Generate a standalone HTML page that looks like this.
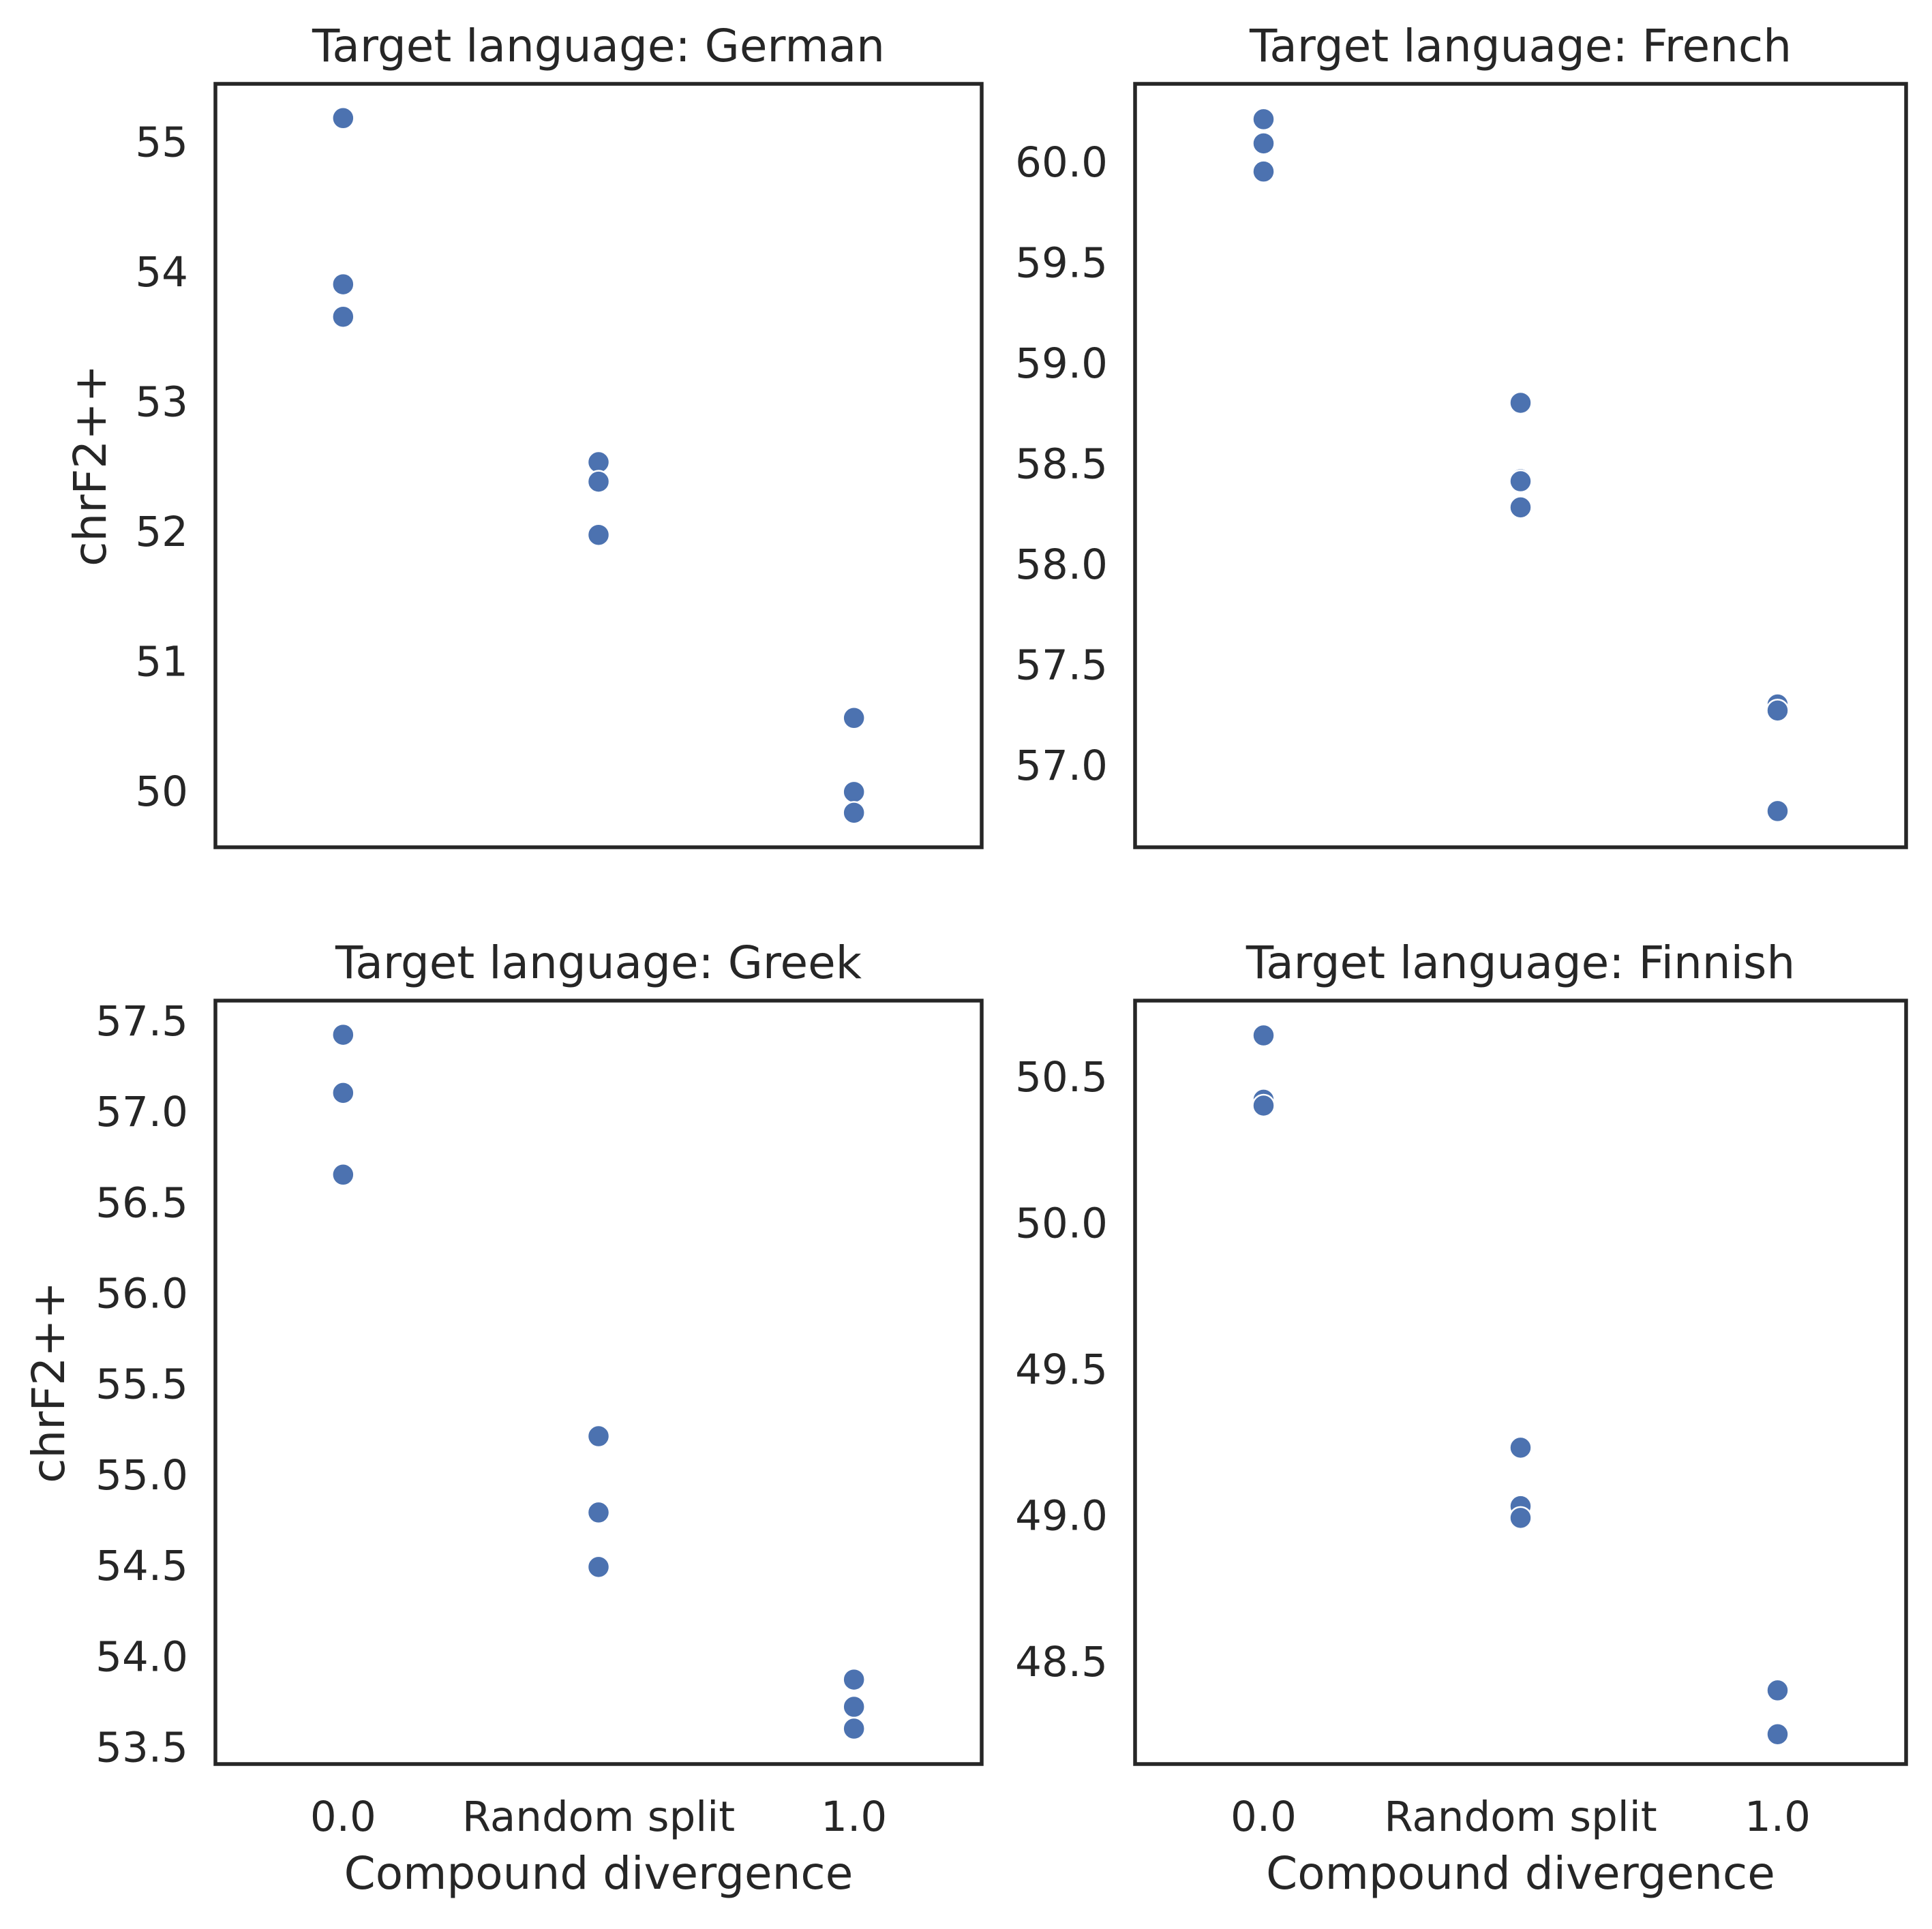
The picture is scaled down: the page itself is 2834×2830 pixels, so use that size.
<!DOCTYPE html>
<html><head><meta charset="utf-8"><style>
html,body{margin:0;padding:0;background:#fff}
svg text{font-family:"DejaVu Sans","Liberation Sans",sans-serif;fill:#262626}
</style></head><body>
<svg id="chart" width="2834" height="2825" viewBox="0 0 2834 2825" xmlns="http://www.w3.org/2000/svg"></svg>
<script>
const categories = ["0.0", "Random split", "1.0"];
const titles = ["Target language: German", "Target language: French", "Target language: Greek", "Target language: Finnish"];
const germanVals = [[55.18, 53.90, 53.65], [52.53, 52.38, 51.97], [50.56, 49.99, 49.83]];
const frenchVals = [[60.21, 60.09, 59.95], [58.80, 58.42, 58.41, 58.28], [57.30, 57.27, 56.77]];
const greekVals = [[57.42, 57.10, 56.65], [55.21, 54.79, 54.49], [53.87, 53.72, 53.60]];
const finnishVals = [[50.64, 50.42, 50.40], [49.23, 49.03, 48.99], [48.40, 48.25, 48.25]];
const germanTicks = [50, 51, 52, 53, 54, 55];
const frenchTicks = [57.0, 57.5, 58.0, 58.5, 59.0, 59.5, 60.0];
const greekTicks = [53.5, 54.0, 54.5, 55.0, 55.5, 56.0, 56.5, 57.0, 57.5];
const finnishTicks = [48.5, 49.0, 49.5, 50.0, 50.5];
const germanRange = [49.564, 55.444];
const frenchRange = [56.59, 60.386];
const greekRange = [53.405, 57.608];
const finnishRange = [48.148, 50.759];

const svg = document.getElementById('chart');
const NS = 'http://www.w3.org/2000/svg';
function mk(tag, attrs, text){
  const e = document.createElementNS(NS, tag);
  for (const k in attrs) e.setAttribute(k, attrs[k]);
  if (text !== undefined) e.textContent = text;
  svg.appendChild(e);
  return e;
}
const panels = [
  {x0:316, x1:1440, y0:123, y1:1243, vals:germanVals, ticks:germanTicks, range:germanRange, dec:0, ylab:true, xlab:false, key:'german'},
  {x0:1665, x1:2796, y0:123, y1:1243, vals:frenchVals, ticks:frenchTicks, range:frenchRange, dec:1, ylab:false, xlab:false, key:'french'},
  {x0:316, x1:1440, y0:1468, y1:2588, vals:greekVals, ticks:greekTicks, range:greekRange, dec:1, ylab:true, xlab:true, key:'greek'},
  {x0:1665, x1:2796, y0:1468, y1:2588, vals:finnishVals, ticks:finnishTicks, range:finnishRange, dec:1, ylab:false, xlab:true, key:'finnish'}
];
panels.forEach((p, i) => {
  const xs = v => p.x0 + (v + 0.5) / 3 * (p.x1 - p.x0);
  const ys = v => p.y1 - (v - p.range[0]) / (p.range[1] - p.range[0]) * (p.y1 - p.y0);
  const cx = (p.x0 + p.x1) / 2;
  const t = mk('text', {x: cx, y: p.y0 - 33, 'font-size': 66, 'text-anchor': 'middle'}, titles[i]);
  
  
  p.ticks.forEach(tv => {
    const lab = mk('text', {x: p.x0 - 40, y: ys(tv) + 22, 'font-size': 61, 'text-anchor': 'end'}, tv.toFixed(p.dec));
    
    
  });
  p.vals.forEach((grp, ci) => {
    grp.forEach(v => {
      const c = mk('circle', {cx: xs(ci), cy: ys(v), r: 16, fill: '#4c72b0', stroke: '#ffffff', 'stroke-width': 2.5});
      
      
    });
  });
  const fr = mk('rect', {x: p.x0, y: p.y0, width: p.x1 - p.x0, height: p.y1 - p.y0, fill: 'none', stroke: '#262626', 'stroke-width': 5.5});
  
  
  if (p.ylab) {
    const cy = (p.y0 + p.y1) / 2;
    const lx = i === 0 ? 155 : 94;
    const yl = mk('text', {x: lx, y: cy, 'font-size': 66, 'text-anchor': 'middle', transform: 'rotate(-90 ' + lx + ' ' + cy + ')'}, 'chrF2++');
    
    
  }
  if (p.xlab) {
    categories.forEach((c, ci) => {
      const xl = mk('text', {x: xs(ci), y: p.y1 + 98, 'font-size': 61, 'text-anchor': 'middle'}, c);
      
      
    });
    const xt = mk('text', {x: cx, y: p.y1 + 183, 'font-size': 66, 'text-anchor': 'middle'}, 'Compound divergence');
    
    
  }
});
</script>
</body></html>
